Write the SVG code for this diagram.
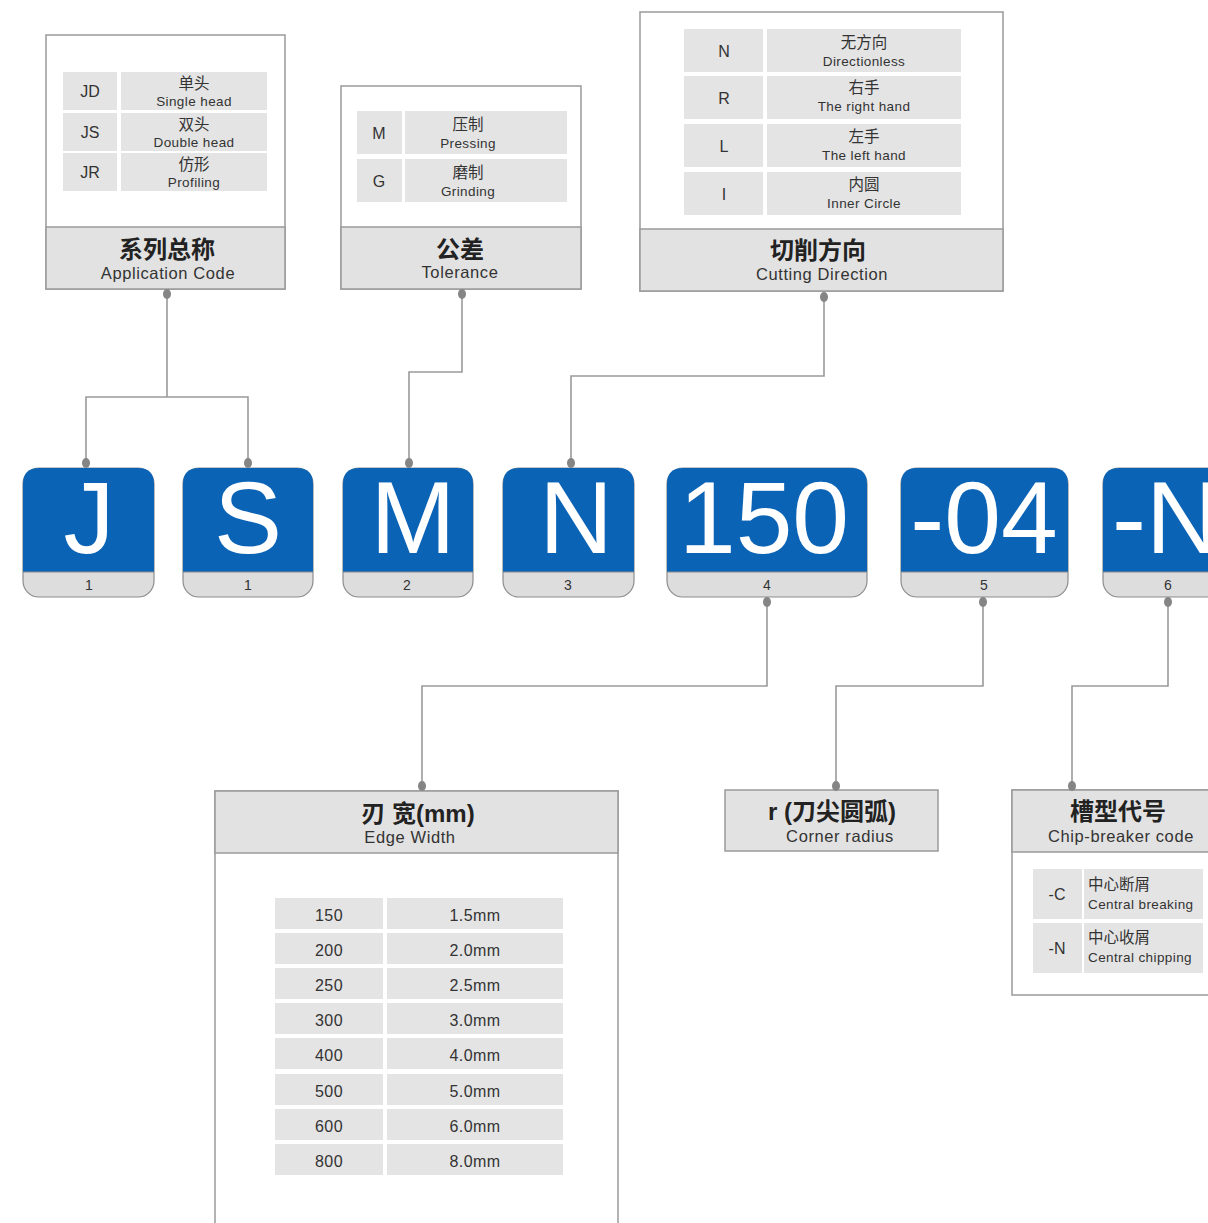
<svg xmlns="http://www.w3.org/2000/svg" width="1208" height="1223" viewBox="0 0 1208 1223">
<style>
text{font-family:"Liberation Sans","Noto Sans CJK SC",sans-serif;}
.box{fill:#fff;stroke:#9a9a9a;stroke-width:1.5;}
.hdr{fill:#e2e2e2;stroke:#9a9a9a;stroke-width:1.5;}
.cell{fill:#e4e4e4;}
.title{font-size:24px;font-weight:bold;fill:#222;text-anchor:middle;}
.sub{font-size:16.5px;fill:#333;text-anchor:middle;letter-spacing:0.6px;}
.code{font-size:16px;fill:#333;text-anchor:middle;}
.cn{font-size:15.5px;fill:#333;text-anchor:middle;}
.en{font-size:13.5px;fill:#333;text-anchor:middle;letter-spacing:0.4px;}
.tv{font-size:16px;fill:#333;text-anchor:middle;letter-spacing:0.4px;}
.tbg{fill:#dddddd;stroke:#8c8c8c;stroke-width:1.2;}
.tblue{fill:#0b63b6;}
.big{font-size:102px;fill:#fff;text-anchor:middle;}
.num{font-size:14px;fill:#333;text-anchor:middle;}
.wire{fill:none;stroke:#9a9a9a;stroke-width:1.6;}
.dot{fill:#858585;}
</style>
<rect width="1208" height="1223" fill="#fff"/>

<!-- Box 1 -->
<g id="application-code">
<rect class="box" x="46" y="35" width="239" height="254"/>
<rect class="hdr" x="46" y="227" width="239" height="62"/>
<rect class="cell" x="63" y="72" width="54" height="38"/>
<rect class="cell" x="121" y="72" width="146" height="38"/>
<rect class="cell" x="63" y="113" width="54" height="38"/>
<rect class="cell" x="121" y="113" width="146" height="38"/>
<rect class="cell" x="63" y="153" width="54" height="38"/>
<rect class="cell" x="121" y="153" width="146" height="38"/>
<text class="code" x="90" y="97">JD</text>
<text class="cn" x="194" y="89">单头</text>
<text class="en" x="194" y="106">Single head</text>
<text class="code" x="90" y="138">JS</text>
<text class="cn" x="194" y="130">双头</text>
<text class="en" x="194" y="147">Double head</text>
<text class="code" x="90" y="178">JR</text>
<text class="cn" x="194" y="170">仿形</text>
<text class="en" x="194" y="187">Profiling</text>
<text class="title" x="167" y="258">系列总称</text>
<text class="sub" x="168" y="279">Application Code</text>
</g>

<!-- Box 2 -->
<g id="tolerance">
<rect class="box" x="341" y="86" width="240" height="203"/>
<rect class="hdr" x="341" y="227" width="240" height="62"/>
<rect class="cell" x="357" y="111" width="45" height="43"/>
<rect class="cell" x="405" y="111" width="162" height="43"/>
<rect class="cell" x="357" y="159" width="45" height="43"/>
<rect class="cell" x="405" y="159" width="162" height="43"/>
<text class="code" x="379" y="139">M</text>
<text class="cn" x="468" y="130">压制</text>
<text class="en" x="468" y="148">Pressing</text>
<text class="code" x="379" y="187">G</text>
<text class="cn" x="468" y="178">磨制</text>
<text class="en" x="468" y="196">Grinding</text>
<text class="title" x="460" y="258">公差</text>
<text class="sub" x="460" y="278">Tolerance</text>
</g>

<!-- Box 3 -->
<g id="cutting-direction">
<rect class="box" x="640" y="12" width="363" height="279"/>
<rect class="hdr" x="640" y="229" width="363" height="62"/>
<rect class="cell" x="684" y="29" width="79" height="43"/>
<rect class="cell" x="767" y="29" width="194" height="43"/>
<rect class="cell" x="684" y="76" width="79" height="43"/>
<rect class="cell" x="767" y="76" width="194" height="43"/>
<rect class="cell" x="684" y="124" width="79" height="43"/>
<rect class="cell" x="767" y="124" width="194" height="43"/>
<rect class="cell" x="684" y="172" width="79" height="43"/>
<rect class="cell" x="767" y="172" width="194" height="43"/>
<text class="code" x="724" y="57">N</text>
<text class="cn" x="864" y="48">无方向</text>
<text class="en" x="864" y="66">Directionless</text>
<text class="code" x="724" y="104">R</text>
<text class="cn" x="864" y="93">右手</text>
<text class="en" x="864" y="111">The right hand</text>
<text class="code" x="724" y="152">L</text>
<text class="cn" x="864" y="142">左手</text>
<text class="en" x="864" y="160">The left hand</text>
<text class="code" x="724" y="200">I</text>
<text class="cn" x="864" y="190">内圆</text>
<text class="en" x="864" y="208">Inner Circle</text>
<text class="title" x="818" y="259">切削方向</text>
<text class="sub" x="822" y="280">Cutting Direction</text>
</g>

<!-- Tiles -->
<g id="tile-J">
<rect class="tbg" x="23" y="468" width="131" height="129" rx="16"/>
<path class="tblue" d="M23,572 V484 Q23,468 39,468 H138 Q154,468 154,484 V572 Z"/>
<line x1="23" y1="572" x2="154" y2="572" stroke="#8c8c8c" stroke-width="1"/>
<text class="big" x="89" y="553">J</text>
<text class="num" x="89" y="590">1</text>
</g>
<g id="tile-S">
<rect class="tbg" x="183" y="468" width="130" height="129" rx="16"/>
<path class="tblue" d="M183,572 V484 Q183,468 199,468 H297 Q313,468 313,484 V572 Z"/>
<line x1="183" y1="572" x2="313" y2="572" stroke="#8c8c8c" stroke-width="1"/>
<text class="big" x="248" y="553">S</text>
<text class="num" x="248" y="590">1</text>
</g>
<g id="tile-M">
<rect class="tbg" x="343" y="468" width="130" height="129" rx="16"/>
<path class="tblue" d="M343,572 V484 Q343,468 359,468 H457 Q473,468 473,484 V572 Z"/>
<line x1="343" y1="572" x2="473" y2="572" stroke="#8c8c8c" stroke-width="1"/>
<text class="big" x="413" y="553">M</text>
<text class="num" x="407" y="590">2</text>
</g>
<g id="tile-N">
<rect class="tbg" x="503" y="468" width="131" height="129" rx="16"/>
<path class="tblue" d="M503,572 V484 Q503,468 519,468 H618 Q634,468 634,484 V572 Z"/>
<line x1="503" y1="572" x2="634" y2="572" stroke="#8c8c8c" stroke-width="1"/>
<text class="big" x="576" y="553">N</text>
<text class="num" x="568" y="590">3</text>
</g>
<g id="tile-150">
<rect class="tbg" x="667" y="468" width="200" height="129" rx="16"/>
<path class="tblue" d="M667,572 V484 Q667,468 683,468 H851 Q867,468 867,484 V572 Z"/>
<line x1="667" y1="572" x2="867" y2="572" stroke="#8c8c8c" stroke-width="1"/>
<text class="big" x="764" y="553">150</text>
<text class="num" x="767" y="590">4</text>
</g>
<g id="tile-04">
<rect class="tbg" x="901" y="468" width="167" height="129" rx="16"/>
<path class="tblue" d="M901,572 V484 Q901,468 917,468 H1052 Q1068,468 1068,484 V572 Z"/>
<line x1="901" y1="572" x2="1068" y2="572" stroke="#8c8c8c" stroke-width="1"/>
<text class="big" x="984" y="553">-04</text>
<text class="num" x="984" y="590">5</text>
</g>
<g id="tile-N6">
<rect class="tbg" x="1103" y="468" width="167" height="129" rx="16"/>
<path class="tblue" d="M1103,572 V484 Q1103,468 1119,468 H1254 Q1270,468 1270,484 V572 Z"/>
<line x1="1103" y1="572" x2="1270" y2="572" stroke="#8c8c8c" stroke-width="1"/>
<text class="big" x="1112" y="553" style="text-anchor:start">-N</text>
<text class="num" x="1168" y="590">6</text>
</g>

<!-- Edge width -->
<g id="edge-width">
<rect class="box" x="215" y="791" width="403" height="450"/>
<rect class="hdr" x="215" y="791" width="403" height="62"/>
<text class="title" x="418" y="822">刃 宽(mm)</text>
<text class="sub" x="410" y="843">Edge Width</text>
<g>
<rect class="cell" x="275" y="898" width="108" height="31"/><rect class="cell" x="387" y="898" width="176" height="31"/>
<rect class="cell" x="275" y="933" width="108" height="31"/><rect class="cell" x="387" y="933" width="176" height="31"/>
<rect class="cell" x="275" y="968" width="108" height="31"/><rect class="cell" x="387" y="968" width="176" height="31"/>
<rect class="cell" x="275" y="1003" width="108" height="31"/><rect class="cell" x="387" y="1003" width="176" height="31"/>
<rect class="cell" x="275" y="1038" width="108" height="31"/><rect class="cell" x="387" y="1038" width="176" height="31"/>
<rect class="cell" x="275" y="1074" width="108" height="31"/><rect class="cell" x="387" y="1074" width="176" height="31"/>
<rect class="cell" x="275" y="1109" width="108" height="31"/><rect class="cell" x="387" y="1109" width="176" height="31"/>
<rect class="cell" x="275" y="1144" width="108" height="31"/><rect class="cell" x="387" y="1144" width="176" height="31"/>
</g>
<text class="tv" x="329" y="921">150</text><text class="tv" x="475" y="921">1.5mm</text>
<text class="tv" x="329" y="956">200</text><text class="tv" x="475" y="956">2.0mm</text>
<text class="tv" x="329" y="991">250</text><text class="tv" x="475" y="991">2.5mm</text>
<text class="tv" x="329" y="1026">300</text><text class="tv" x="475" y="1026">3.0mm</text>
<text class="tv" x="329" y="1061">400</text><text class="tv" x="475" y="1061">4.0mm</text>
<text class="tv" x="329" y="1097">500</text><text class="tv" x="475" y="1097">5.0mm</text>
<text class="tv" x="329" y="1132">600</text><text class="tv" x="475" y="1132">6.0mm</text>
<text class="tv" x="329" y="1167">800</text><text class="tv" x="475" y="1167">8.0mm</text>
</g>

<!-- Corner radius -->
<g id="corner-radius">
<rect class="hdr" x="725" y="790" width="213" height="61"/>
<text class="title" x="832" y="820">r (刀尖圆弧)</text>
<text class="sub" x="840" y="842">Corner radius</text>
</g>

<!-- Chip-breaker -->
<g id="chip-breaker">
<rect class="box" x="1012" y="790" width="220" height="205"/>
<rect class="hdr" x="1012" y="790" width="220" height="62"/>
<text class="title" x="1118" y="820">槽型代号</text>
<text class="sub" x="1121" y="842">Chip-breaker code</text>
<rect class="cell" x="1033" y="869" width="49" height="50"/>
<rect class="cell" x="1084" y="869" width="119" height="50"/>
<rect class="cell" x="1033" y="923" width="49" height="50"/>
<rect class="cell" x="1084" y="923" width="119" height="50"/>
<text class="code" x="1057" y="900">-C</text>
<text class="cn" x="1088" y="890" style="text-anchor:start">中心断屑</text>
<text class="en" x="1088" y="909" style="text-anchor:start">Central breaking</text>
<text class="code" x="1057" y="954">-N</text>
<text class="cn" x="1088" y="943" style="text-anchor:start">中心收屑</text>
<text class="en" x="1088" y="962" style="text-anchor:start">Central chipping</text>
</g>

<!-- Connectors -->
<g id="connectors">
<path class="wire" d="M167,294 V397 M86,463 V397 H248 V463"/>
<path class="wire" d="M462,294 V372 H409 V463"/>
<path class="wire" d="M824,297 V376 H571 V463"/>
<path class="wire" d="M767,602 V686 H422 V786"/>
<path class="wire" d="M983,602 V686 H836 V786"/>
<path class="wire" d="M1168,602 V686 H1072 V786"/>
<ellipse class="dot" cx="167" cy="294" rx="4" ry="5"/>
<ellipse class="dot" cx="86" cy="463" rx="4" ry="5"/>
<ellipse class="dot" cx="248" cy="463" rx="4" ry="5"/>
<ellipse class="dot" cx="462" cy="294" rx="4" ry="5"/>
<ellipse class="dot" cx="409" cy="463" rx="4" ry="5"/>
<ellipse class="dot" cx="824" cy="297" rx="4" ry="5"/>
<ellipse class="dot" cx="571" cy="463" rx="4" ry="5"/>
<ellipse class="dot" cx="767" cy="602" rx="4" ry="5"/>
<ellipse class="dot" cx="422" cy="786" rx="4" ry="5"/>
<ellipse class="dot" cx="983" cy="602" rx="4" ry="5"/>
<ellipse class="dot" cx="836" cy="786" rx="4" ry="5"/>
<ellipse class="dot" cx="1168" cy="602" rx="4" ry="5"/>
<ellipse class="dot" cx="1072" cy="786" rx="4" ry="5"/>
</g>
</svg>
